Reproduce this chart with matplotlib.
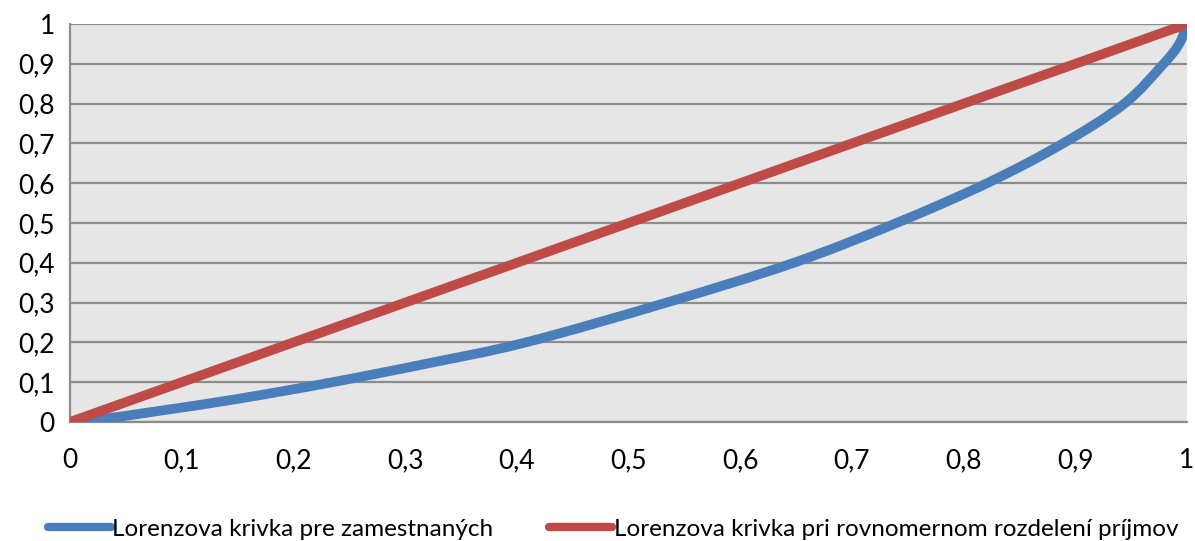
import matplotlib
matplotlib.use("Agg")
import matplotlib.pyplot as plt
from matplotlib.ticker import FuncFormatter
from matplotlib.path import Path
from matplotlib.patches import PathPatch
from matplotlib.lines import Line2D

# Data
lorenz_x = [0.0, 0.02, 0.08, 0.15, 0.235, 0.32, 0.408, 0.534, 0.648, 0.74, 0.821, 0.889, 0.944, 0.979, 0.993, 1.0]
lorenz_y = [0.0, 0.004, 0.028, 0.058, 0.10, 0.147, 0.20, 0.30, 0.40, 0.50, 0.60, 0.70, 0.80, 0.90, 0.95, 1.0]
equal_x = [0.0, 1.0]
equal_y = [0.0, 1.0]
ticks = [0, 0.1, 0.2, 0.3, 0.4, 0.5, 0.6, 0.7, 0.8, 0.9, 1.0]
labels = ["Lorenzova krivka pre zamestnaných",
          "Lorenzova krivka pri rovnomernom rozdelení príjmov"]

BLUE = '#4a7ebb'
RED = '#be4b48'

plt.rcParams['font.family'] = ['Lato', 'DejaVu Sans']

fig = plt.figure(figsize=(11.95, 5.41), dpi=100)
ax = fig.add_axes([70/1195, 119/541, 1117/1195, 398/541])
ax.set_facecolor('#e6e6e6')


def smooth_path(xs, ys):
    """Smoothed line (like a spreadsheet's smoothed line) as Bezier segments."""
    pts = list(zip(xs, ys))
    n = len(pts)
    verts = [pts[0]]
    codes = [Path.MOVETO]
    for i in range(n - 1):
        p0 = pts[i - 1] if i > 0 else pts[i]
        p1 = pts[i]
        p2 = pts[i + 1]
        p3 = pts[i + 2] if i + 2 < n else pts[i + 1]
        c1 = (p1[0] + (p2[0] - p0[0]) / 6, p1[1] + (p2[1] - p0[1]) / 6)
        c2 = (p2[0] - (p3[0] - p1[0]) / 6, p2[1] - (p3[1] - p1[1]) / 6)
        verts += [c1, c2, p2]
        codes += [Path.CURVE4] * 3
    return Path(verts, codes)


ax.add_patch(PathPatch(smooth_path(lorenz_x, lorenz_y), facecolor='none', edgecolor=BLUE,
                       lw=7, capstyle='butt', joinstyle='round', zorder=3))
ax.plot(equal_x, equal_y, color=RED, lw=7, solid_capstyle='butt', zorder=3)

ax.set_xlim(0, 1)
ax.set_ylim(0, 1)
ax.set_xticks(ticks)
ax.set_yticks(ticks)
fmt = FuncFormatter(lambda v, p: ('%g' % round(v, 2)).replace('.', ','))
ax.xaxis.set_major_formatter(fmt)
ax.yaxis.set_major_formatter(fmt)
ax.tick_params(axis='both', length=0, labelsize=19, colors='black')
ax.tick_params(axis='x', pad=19)
ax.tick_params(axis='y', pad=11)
ax.grid(axis='y', color='#8c8c8c', lw=1.6)
ax.set_axisbelow(True)
for s in ['top', 'right']:
    ax.spines[s].set_visible(False)
for s in ['left', 'bottom']:
    ax.spines[s].set_color('#8c8c8c')
    ax.spines[s].set_linewidth(1.6)

handles = [Line2D([], [], color=BLUE, lw=6, solid_capstyle='round'),
           Line2D([], [], color=RED, lw=6, solid_capstyle='round')]
leg = fig.legend(handles, labels, loc='lower center', bbox_to_anchor=(0.513, -0.038), ncol=2,
                 frameon=False, fontsize=17.5, handlelength=2.6, handletextpad=0.05,
                 columnspacing=2.3)

fig.savefig('out.png', dpi=100)
